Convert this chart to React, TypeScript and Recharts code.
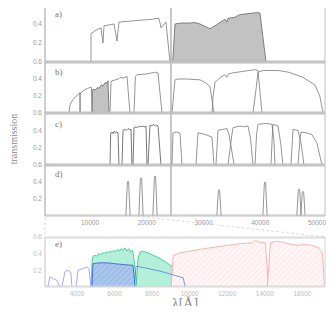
import React from 'react'
import { ComposedChart, Line, Area, XAxis, YAxis, ReferenceLine } from 'recharts'

type Pt = [number, number]

// wavelength [Å], transmission

// a) broad bands
const aBroad: Pt[] = [[10176, 0], [10176, 0.3], [11200, 0.34], [11938, 0.36], [12290, 0.2], [12467, 0.38], [13300, 0.39], [14229, 0.4], [14757, 0.22], [15110, 0.42], [17000, 0.43], [19000, 0.44], [21000, 0.45], [21805, 0.46], [22158, 0.46], [22510, 0.36], [23391, 0.42], [24096, 0]]
const aFilled: Pt[] = [[24572, 0], [24977, 0.4], [26034, 0.41], [27500, 0.41], [28500, 0.415], [29382, 0.4], [31144, 0.35], [32500, 0.4], [33787, 0.45], [34139, 0.42], [34316, 0.46], [35500, 0.47], [36430, 0.5], [38000, 0.51], [39426, 0.52], [39954, 0.515], [41011, 0]]

// b) medium bands
const b1: Pt[] = [[6300, 0], [6500, 0.1], [7000, 0.16], [7600, 0.2], [8238, 0.24], [8300, 0]]
const b2: Pt[] = [[8200, 0], [8250, 0.23], [9000, 0.27], [9600, 0.29], [10000, 0.3], [10250, 0.3], [10352, 0]]
const b3: Pt[] = [[10352, 0], [10420, 0.26], [10529, 0.28], [10900, 0.27], [11300, 0.3], [11600, 0.29], [12000, 0.33], [12300, 0.32], [12700, 0.36], [13000, 0.35], [13172, 0.38], [13348, 0]]
const b4: Pt[] = [[13524, 0], [13700, 0.36], [13876, 0.38], [14500, 0.39], [15000, 0.4], [15300, 0.42], [15800, 0.41], [16519, 0.43], [17048, 0]]
const b5: Pt[] = [[17753, 0], [18000, 0.43], [18281, 0.45], [20000, 0.46], [21500, 0.48], [21982, 0.47], [22686, 0]]
const b6: Pt[] = [[24448, 0], [24977, 0.39], [25500, 0.4], [27000, 0.4], [29382, 0.39], [30500, 0.35], [31144, 0.31], [31849, 0]]
const b7: Pt[] = [[31496, 0], [31700, 0.2], [32025, 0.36], [33000, 0.42], [33787, 0.45], [34139, 0.42], [34400, 0.46], [35020, 0.47], [37000, 0.49], [39073, 0.51], [39600, 0.5], [40306, 0]]
const b8: Pt[] = [[38720, 0], [39300, 0.3], [39602, 0.48], [40500, 0.5], [43126, 0.5], [45000, 0.48], [47500, 0.42], [49645, 0.33], [50500, 0.2], [51055, 0]]

// c) narrow bands
const c1: Pt[] = [[13524, 0], [13650, 0.37], [13900, 0.38], [14100, 0.36], [14300, 0.39], [14500, 0.37], [14750, 0.38], [14934, 0.37], [15110, 0]]
const c2: Pt[] = [[15638, 0], [15815, 0.4], [16100, 0.41], [16400, 0.4], [16700, 0.42], [17000, 0.41], [17224, 0.41], [17400, 0]]
const c3: Pt[] = [[17577, 0], [17753, 0.43], [18100, 0.44], [18400, 0.43], [18700, 0.45], [19000, 0.44], [19300, 0.45], [19600, 0.44], [19867, 0.45], [20043, 0]]
const c4: Pt[] = [[20220, 0], [20572, 0.46], [20900, 0.45], [21200, 0.47], [21500, 0.45], [21800, 0.46], [21982, 0.45], [22510, 0]]
const c5: Pt[] = [[24448, 0], [24625, 0.37], [25200, 0.38], [25858, 0.37], [26210, 0]]
const c6: Pt[] = [[28677, 0], [29030, 0.37], [29911, 0.36], [30800, 0.34], [31496, 0.32], [31849, 0]]
const c7: Pt[] = [[32201, 0], [32554, 0.4], [33300, 0.41], [34139, 0.42], [34500, 0.35], [35400, 0]]
const c8: Pt[] = [[34316, 0], [34900, 0.3], [35197, 0.43], [36430, 0.45], [37000, 0.44], [37840, 0.45], [38300, 0.3], [38720, 0]]
const c9: Pt[] = [[39073, 0], [39350, 0.35], [39602, 0.47], [41000, 0.48], [42068, 0.47], [42400, 0.3], [42597, 0]]
const c10: Pt[] = [[41892, 0], [42100, 0.3], [42245, 0.47], [43126, 0.45], [43600, 0.25], [44007, 0]]
const c11: Pt[] = [[45416, 0], [45769, 0.41], [46650, 0.4], [47200, 0.25], [47707, 0]]
const c12: Pt[] = [[46650, 0], [47000, 0.3], [47179, 0.38], [48200, 0.37], [49117, 0.35], [50000, 0.25], [50879, 0]]

// d) line filters
const d1: Pt[] = [[16320, 0], [16580, 0.39], [16700, 0.41], [16810, 0.4], [17070, 0]]
const d2: Pt[] = [[18610, 0], [18870, 0.43], [18990, 0.45], [19100, 0.44], [19360, 0]]
const d3: Pt[] = [[21080, 0], [21340, 0.45], [21450, 0.47], [21570, 0.46], [21830, 0]]
const d4: Pt[] = [[32350, 0], [32610, 0.29], [32730, 0.31], [32850, 0.3], [33110, 0]]
const d5: Pt[] = [[40460, 0], [40720, 0.38], [40840, 0.4], [40950, 0.39], [41210, 0]]
const d6: Pt[] = [[46450, 0], [46700, 0.31], [46830, 0.32], [46950, 0.31], [47200, 0]]
const d7: Pt[] = [[47150, 0], [47400, 0.28], [47530, 0.29], [47650, 0.28], [47900, 0]]

// e) optical / near-IR zoom
const eU1: Pt[] = [[2453, 0], [2560, 0.12], [2750, 0.1], [2933, 0.08], [3093, 0]]
const eU2: Pt[] = [[3200, 0], [3360, 0.18], [3467, 0.2], [3600, 0.19], [3680, 0.17], [3733, 0]]
const eU3: Pt[] = [[3950, 0], [4053, 0.2], [4300, 0.22], [4533, 0.24], [4640, 0.22], [4747, 0]]
const eG1: Pt[] = [[4747, 0], [4800, 0.3], [4853, 0.37], [4950, 0.38], [5050, 0.37], [5150, 0.4], [5250, 0.39], [5350, 0.41], [5450, 0.4], [5550, 0.42], [5650, 0.41], [5750, 0.43], [5850, 0.42], [5950, 0.44], [6050, 0.42], [6150, 0.45], [6250, 0.43], [6350, 0.46], [6450, 0.44], [6550, 0.47], [6650, 0.43], [6750, 0.46], [6850, 0.42], [6950, 0.44], [7000, 0.4], [7100, 0.2], [7200, 0]]
const eG2: Pt[] = [[7147, 0], [7250, 0.35], [7360, 0.42], [7500, 0.43], [7893, 0.4], [8427, 0.34], [8800, 0.29], [9200, 0.22], [9493, 0.14], [9653, 0.09], [9760, 0]]
const eB1: Pt[] = [[4800, 0], [4853, 0.28], [5200, 0.29], [5600, 0.29], [6000, 0.28], [6453, 0.27], [6987, 0.26], [7093, 0]]
const eB2: Pt[] = [[7050, 0], [7147, 0.25], [7600, 0.23], [8427, 0.19], [9200, 0.14], [9653, 0.11], [9760, 0]]
const eR1: Pt[] = [[9013, 0], [9120, 0.38], [9500, 0.41], [10000, 0.43], [10500, 0.45], [11360, 0.48], [12000, 0.5], [12700, 0.52], [13333, 0.53], [13493, 0.56], [13700, 0.54], [14027, 0.53], [14187, 0]]
const eR2: Pt[] = [[14133, 0], [14293, 0.53], [14600, 0.55], [14933, 0.54], [15200, 0.52], [15467, 0.51], [15800, 0.5], [16160, 0.51], [16500, 0.5], [16853, 0.47], [17067, 0.4], [17173, 0]]

const wideDomain: [number, number] = [2070, 51410]
const wideTicks = [10000, 20000, 30000, 40000, 50000]
const wideMinor = [4000, 6000, 8000, 12000, 14000, 16000, 18000, 22000, 24000, 26000, 28000, 32000, 34000, 36000, 38000, 42000, 44000, 46000, 48000]
const zoomDomain: [number, number] = [2300, 17200]
const zoomTicks = [4000, 6000, 8000, 10000, 12000, 14000, 16000]
const zoomMinor = [3000, 5000, 7000, 9000, 11000, 13000, 15000, 17000]
const yTicks = [0.2, 0.4, 0.6]
const yMinor = [0.1, 0.2, 0.3, 0.4, 0.5]
const breakAt = 24270

const rows = (pts: Pt[]) => pts.map(([w, t]) => ({ w, t }))

const curve = (pts: Pt[], stroke: string, w = 0.8) => (
  <Line data={rows(pts)} dataKey="t" type="linear" stroke={stroke} strokeWidth={w} dot={false} activeDot={false} isAnimationActive={false} />
)
const band = (pts: Pt[], stroke: string, fill: string, opacity = 1, w = 0.8) => (
  <Area data={rows(pts)} dataKey="t" type="linear" stroke={stroke} strokeWidth={w} fill={fill} fillOpacity={opacity} dot={false} activeDot={false} isAnimationActive={false} />
)

interface PanelProps {
  top: number
  plotH: number
  domain: [number, number]
  major: number[]
  minor: number[]
  labels?: boolean
  frame: string
  text: string
  children: React.ReactNode
}

const tickFont = 'Liberation Sans, Arial, sans-serif'

function Panel({ top, plotH, domain, major, minor, labels, frame, text, children }: PanelProps) {
  const labH = labels ? 13 : 0
  // mirrored axes take no room, they only draw the frame and the inward ticks
  const edge = { dataKey: 'w', type: 'number' as const, domain, allowDataOverflow: true, height: 1, mirror: true, tick: false, axisLine: { stroke: frame }, tickLine: { stroke: frame } }
  const side = { type: 'number' as const, domain: [0, 0.6], allowDataOverflow: true, width: 1, mirror: true, tick: false, ticks: yMinor, tickSize: 2, axisLine: { stroke: frame }, tickLine: { stroke: frame } }
  return (
    <div style={{ position: 'absolute', left: 0, top: top - 4 }}>
      <ComposedChart width={334} height={plotH + 4 + (labels ? labH : 4)} margin={{ top: 4, right: 9, bottom: labels ? 0 : 4, left: 0 }}>
        {labels && (
          <XAxis xAxisId="lab" dataKey="w" type="number" domain={domain} allowDataOverflow ticks={major} height={labH}
            tickLine={false} axisLine={false} tickSize={0} tickMargin={4} interval={0}
            tick={{ fontSize: 6.5, fill: text, fontFamily: tickFont }} />
        )}
        <XAxis xAxisId={0} {...edge} ticks={major} tickSize={4} />
        <XAxis xAxisId="bm" {...edge} ticks={minor} tickSize={2} />
        <XAxis xAxisId="t" orientation="top" {...edge} ticks={major} tickSize={4} />
        <XAxis xAxisId="tm" orientation="top" {...edge} ticks={minor} tickSize={2} />
        <YAxis yAxisId={0} type="number" domain={[0, 0.6]} allowDataOverflow ticks={yTicks} width={45} tickLine={false}
          tickSize={0} tickMargin={3} axisLine={{ stroke: frame }} interval={0}
          tick={{ fontSize: 6.5, fill: text, fontFamily: tickFont }} />
        <YAxis yAxisId="lm" {...side} />
        <YAxis yAxisId="r" orientation="right" {...side} />
        {children}
      </ComposedChart>
    </div>
  )
}

const tag = (txt: string, top: number) => (
  <div style={{ position: 'absolute', left: 55, top, fontFamily: 'Liberation Serif, serif', fontSize: 9, color: '#777' }}>{txt}</div>
)

const gray = '#7a7a7a'
const frameGray = '#bdbdbd'
const breakLine = <ReferenceLine x={breakAt} stroke="#b5b5b5" strokeWidth={1.5} />

export default function App() {
  return (
    <div style={{ position: 'relative', width: 334, height: 314, margin: -8, background: '#fff', overflow: 'hidden' }}>
      <svg width={0} height={0} style={{ position: 'absolute' }}>
        <defs>
          <pattern id="hatchRed" width="4" height="4" patternUnits="userSpaceOnUse" patternTransform="rotate(45)">
            <rect width="4" height="4" fill="#fff7f7" />
            <line x1="0" y1="0" x2="0" y2="4" stroke="#ffd6d6" strokeWidth="1" />
          </pattern>
          <pattern id="hatchBlue" width="4" height="4" patternUnits="userSpaceOnUse" patternTransform="rotate(45)">
            <rect width="4" height="4" fill="#a9c6ec" />
            <line x1="0" y1="0" x2="0" y2="4" stroke="#86a8dc" strokeWidth="1" />
          </pattern>
        </defs>
      </svg>

      <Panel top={5} plotH={57} domain={wideDomain} major={wideTicks} minor={wideMinor} frame={frameGray} text="#999">
        {breakLine}
        {curve(aBroad, gray)}
        {band(aFilled, '#666', '#c2c2c2')}
      </Panel>
      <Panel top={62} plotH={51} domain={wideDomain} major={wideTicks} minor={wideMinor} frame={frameGray} text="#999">
        {breakLine}
        {curve(b1, gray)}
        {curve(b2, gray)}
        {band(b3, '#666', '#c2c2c2')}
        {curve(b4, gray)}
        {curve(b5, gray)}
        {curve(b6, gray)}
        {curve(b7, gray)}
        {curve(b8, gray)}
      </Panel>
      <Panel top={113} plotH={52} domain={wideDomain} major={wideTicks} minor={wideMinor} frame={frameGray} text="#999">
        {breakLine}
        {curve(c1, '#555')}
        {curve(c2, '#555')}
        {curve(c3, '#555')}
        {curve(c4, '#555')}
        {curve(c5, gray)}
        {curve(c6, gray)}
        {curve(c7, gray)}
        {curve(c8, gray)}
        {curve(c9, gray)}
        {curve(c10, gray)}
        {curve(c11, gray)}
        {curve(c12, gray)}
      </Panel>
      <Panel top={165} plotH={51} domain={wideDomain} major={wideTicks} minor={wideMinor} labels frame={frameGray} text="#999">
        {breakLine}
        {curve(d1, gray)}
        {curve(d2, gray)}
        {curve(d3, gray)}
        {curve(d4, gray)}
        {curve(d5, gray)}
        {curve(d6, gray)}
        {curve(d7, gray)}
      </Panel>
      <Panel top={237} plotH={50} domain={zoomDomain} major={zoomTicks} minor={zoomMinor} labels frame="#d6d6d6" text="#bbb">
        {band(eG1, '#22c985', '#a6ecd2', 0.85)}
        {band(eG2, '#22c985', '#a6ecd2', 0.85)}
        {band(eB1, '#3456dc', 'url(#hatchBlue)')}
        {band(eR1, '#ff9d9d', 'url(#hatchRed)')}
        {band(eR2, '#ff9d9d', 'url(#hatchRed)')}
        {curve(eB2, '#5a78ea')}
        {curve(eU1, '#8f8fff')}
        {curve(eU2, '#8f8fff')}
        {curve(eU3, '#8f8fff')}
      </Panel>

      <svg width={334} height={314} style={{ position: 'absolute', left: 0, top: 0, pointerEvents: 'none' }}>
        <line x1={45} y1={217} x2={45} y2={237} stroke="#d0d0d0" strokeWidth={0.8} strokeDasharray="3 2" />
        <line x1={137} y1={216} x2={325} y2={237} stroke="#d0d0d0" strokeWidth={0.8} strokeDasharray="3 2" />
      </svg>

      {tag('a)', 9)}
      {tag('b)', 67)}
      {tag('c)', 119)}
      {tag('d)', 169)}
      {tag('e)', 239)}

      <div style={{ position: 'absolute', left: 13, top: 139, transform: 'translate(-50%, -50%) rotate(-90deg)', fontFamily: 'Liberation Serif, serif', fontSize: 10, color: '#888', whiteSpace: 'nowrap' }}>
        transmission
      </div>
      <div style={{ position: 'absolute', left: 185, top: 304, transform: 'translate(-50%, -50%)', fontFamily: 'Liberation Serif, serif', fontSize: 14, color: '#888', whiteSpace: 'nowrap', lineHeight: 1 }}>
        λ[Å]
      </div>
    </div>
  )
}
